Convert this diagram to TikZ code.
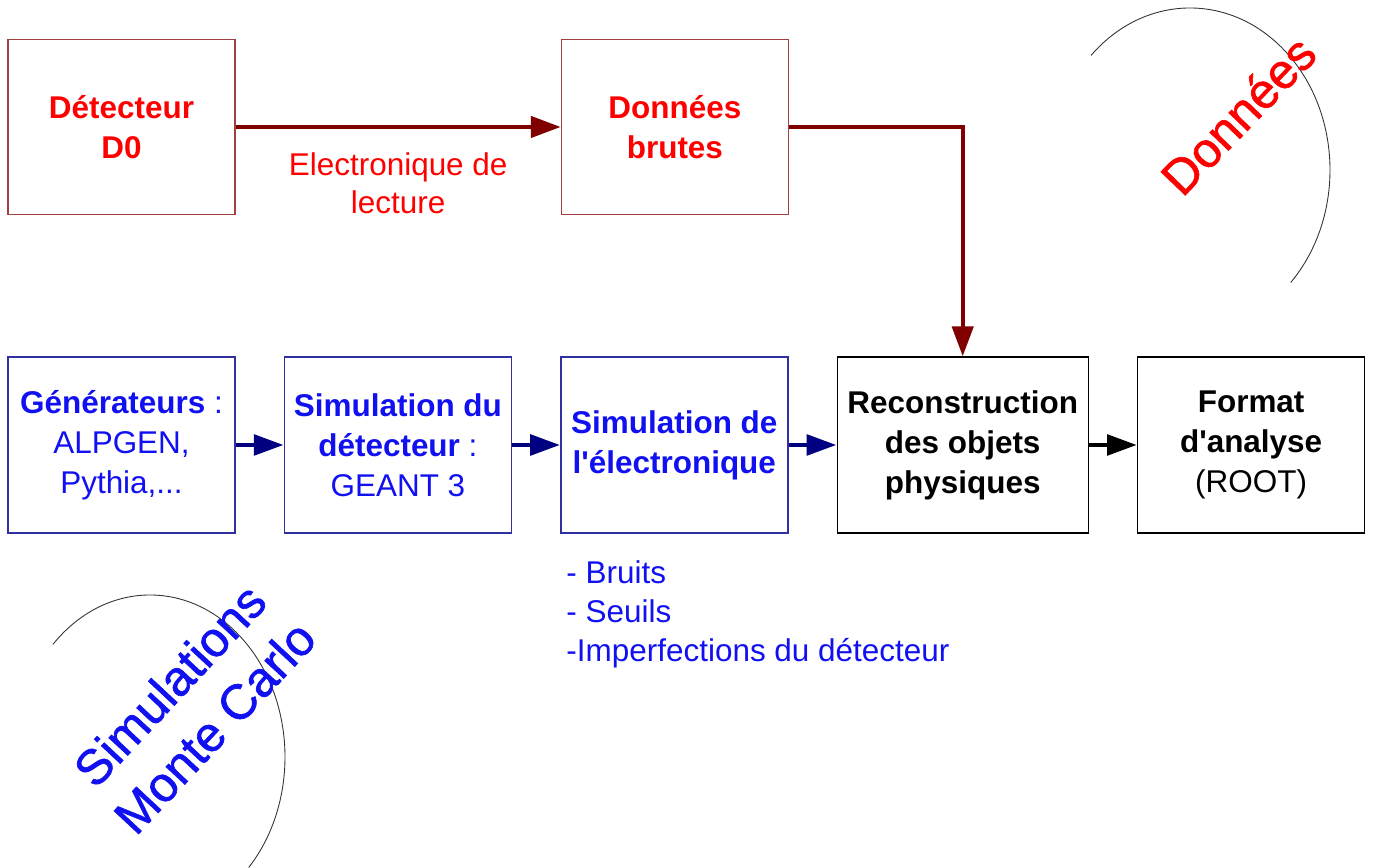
\documentclass[tikz,border=0pt]{standalone}
\usepackage{fontspec}
\setmainfont{Liberation Sans}
\newfontfamily\tagface[FakeBold=1.2]{Liberation Sans}
\usetikzlibrary{arrows.meta, positioning}

\definecolor{datared}{HTML}{FF0000}
\definecolor{boxred}{HTML}{A04040}
\definecolor{arrred}{HTML}{800000}
\definecolor{mcblue}{HTML}{1010F0}
\definecolor{boxblue}{HTML}{3030A0}
\definecolor{arrblue}{HTML}{000080}

\newcommand{\boxfont}{\fontsize{17.9}{22.7}\selectfont}
\newcommand{\notefont}{\fontsize{17.9}{22}\selectfont}
\newcommand{\tagfont}{\tagface\fontsize{28}{35}\selectfont}

\begin{document}
\begin{tikzpicture}[
    topbox/.style={
        rectangle, draw=boxred, fill=white,
        minimum width=4.54cm, minimum height=3.5cm,
        font=\boxfont\bfseries, text=datared, align=center,
        line width=0.8pt,
    },
    mcbox/.style={
        rectangle, draw=boxblue, fill=white,
        minimum width=4.54cm, minimum height=3.52cm,
        font=\boxfont, text=mcblue, align=center,
        line width=0.8pt,
    },
    recobox/.style={mcbox, draw=black, text=black},
    redarr/.style={-{Triangle[length=17pt, width=12pt]}, line width=2.3pt, arrred},
    bluearr/.style={-{Triangle[length=17pt, width=11.5pt]}, line width=2.8pt, arrblue},
    blackarr/.style={bluearr, black},
    readout/.style={font=\notefont, text=datared, align=center},
    note/.style={font=\notefont, text=mcblue, align=left, inner sep=0pt},
    bigtag/.style={font=\tagfont, align=center, inner sep=0pt},
    halo/.style={line width=0.5pt, black!80},
]
\useasboundingbox (0,0) rectangle (27.5,17.36);

% === DATA: top row ===
\node[topbox] (det) at (2.43,14.82) {Détecteur\\D0};
\node[topbox, right=6.5cm of det] (raw) {Données\\brutes};

% === MONTE CARLO: bottom row ===
\node[mcbox] (gen) at (2.43,8.46) {\textbf{Générateurs} :\\ALPGEN,\\Pythia,...};
\node[mcbox, right=0.96cm of gen] (simdet) {\textbf{Simulation du}\\\textbf{détecteur} :\\GEANT 3};
\node[mcbox, right=0.96cm of simdet] (simel) {\textbf{Simulation de}\\\textbf{l\textquotesingle électronique}};
\node[recobox, right=0.96cm of simel, minimum width=5.02cm] (reco) {\textbf{Reconstruction}\\\textbf{des objets}\\\textbf{physiques}};
\node[recobox, right=0.96cm of reco] (fmt) {\textbf{Format}\\\textbf{d\textquotesingle analyse}\\(ROOT)};

% Arrows
\draw[redarr] (det) -- node[readout, below=10pt] (elec) {Electronique de\\lecture} (raw);
\draw[redarr] (raw.east) -| (reco.north);
\draw[bluearr] (gen) -- (simdet);
\draw[bluearr] (simdet) -- (simel);
\draw[bluearr] (simel) -- (reco);
\draw[blackarr] (reco) -- (fmt);

% Electronics effects
\node[note, below right=0.54cm and 0.12cm of simel.south west] (noise) {- Bruits\\- Seuils\\-Imperfections du détecteur};

% Side tags with arcs
\coordinate (datactr) at (23.8,13.96);
\coordinate (mcctr) at (3.0,2.22);
\draw[halo] ([shift={(135:2.8cm and 3.24cm)}]datactr) arc[start angle=135, end angle=-44, x radius=2.8cm, y radius=3.24cm];
\draw[halo] ([shift={(136:2.7cm and 3.24cm)}]mcctr) arc[start angle=136, end angle=-43, x radius=2.7cm, y radius=3.24cm];
\node[bigtag, text=datared, rotate=46] (datatag) at (24.76,15.06) {Données};
\node[bigtag, text=mcblue, rotate=47] (mctag) at (3.84,3.24) {Simulations\\Monte Carlo};

\end{tikzpicture}
\end{document}
